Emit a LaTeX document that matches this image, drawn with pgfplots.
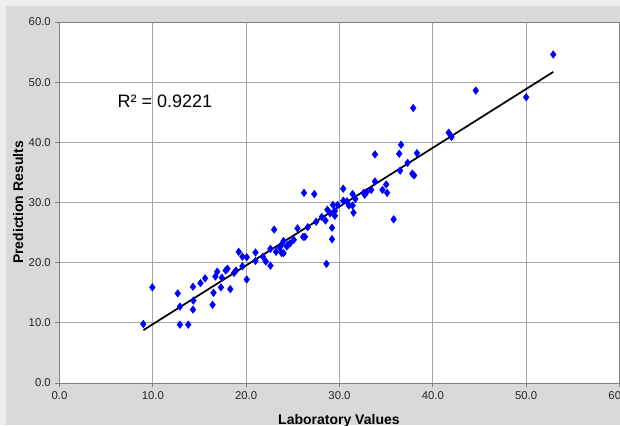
\documentclass[border=0pt]{standalone}
\usepackage{pgfplots}
\pgfplotsset{compat=1.18}
\usepackage{fontspec}
\setmainfont{Liberation Sans}
\definecolor{outerbg}{HTML}{EEEEEE}
\definecolor{panelbg}{HTML}{D9D9D9}
\definecolor{gridc}{HTML}{A6A6A6}
\definecolor{axc}{HTML}{808080}
\begin{document}
\begin{tikzpicture}
\useasboundingbox (0,0) rectangle (465pt,318.75pt);
\fill[outerbg] (0,0) rectangle (465pt,318.75pt);
\fill[panelbg] (4.5pt,0) rectangle (465pt,314.25pt);
\begin{axis}[
  at={(44.625pt,31.5pt)}, anchor=south west,
  scale only axis, width=420pt, height=270.75pt,
  xmin=0, xmax=60, ymin=0, ymax=60,
  xtick={0,10,...,60}, ytick={0,10,...,60},
  grid=major, major grid style={gridc, line width=0.7pt},
  axis line style={axc, line width=0.7pt},
  axis background/.style={fill=white},
  tick pos=left, tick align=outside, major tick length=3pt,
  tick style={axc, line width=0.6pt},
  /pgf/number format/assume math mode=true,
  /pgf/number format/.cd, fixed, fixed zerofill, precision=1, /pgfplots/.cd,
  tick label style={font=\fontsize{8.5pt}{10pt}\selectfont, text=black!85},
  xlabel={Laboratory Values}, ylabel={Prediction Results},
  label style={font=\fontsize{10.5pt}{12pt}\selectfont\bfseries},
  xlabel style={at={(axis description cs:0.499,-0.104)}, anchor=center},
  ylabel style={at={(axis description cs:-0.074,0.5)}, anchor=center},
]
\addplot[only marks, mark=diamond*, mark size=2.8pt, color=blue] coordinates {
(8.98,9.8) (9.95,15.9) (12.67,14.9) (12.9,12.7) (12.9,9.7) (13.8,9.7)
(14.3,16.0) (14.35,13.7) (14.3,12.2) (15.1,16.6) (15.6,17.4) (16.4,13.0)
(16.5,15.0) (16.7,17.7) (16.9,18.5) (17.3,15.9) (17.4,17.5) (17.8,18.7)
(18.0,19.0) (18.3,15.6) (18.7,18.3) (18.9,18.7) (19.2,21.8)
(19.6,21.0) (20.06,20.9) (20.06,17.2) (19.6,19.4) (21.0,21.7) (21.0,20.3)
(21.8,21.0) (22.1,20.2) (22.6,19.5) (22.6,22.3) (23.0,25.5) (23.2,21.8)
(23.6,22.5) (23.8,21.6) (24.0,21.6) (24.0,23.6) (23.8,23.0) (24.35,22.7)
(24.5,23.0) (24.7,23.2) (25.1,23.8) (25.5,25.7) (26.1,24.3) (26.3,24.3)
(26.6,25.9) (27.5,26.8) (28.1,27.6) (28.5,27.0) (28.6,19.8) (29.2,25.8)
(29.2,23.9) (29.0,28.2) (29.3,29.6) (29.8,29.6) (28.7,28.8)
(26.2,31.6) (27.3,31.4)
(36.6,39.6) (36.4,38.1) (38.3,38.2) (33.8,38.0) (37.3,36.6) (36.5,35.3)
(37.8,34.8) (38.0,34.5) (33.8,33.5) (35.0,33.0) (34.6,32.1) (35.1,31.6)
(33.4,32.1) (32.9,31.7) (32.6,31.6) (32.7,31.3) (31.4,31.4) (31.7,30.6)
(30.4,32.3) (30.4,30.3) (30.8,30.2) (31.0,29.5) (31.4,29.5) (31.5,28.3)
(29.5,28.6) (29.5,27.8) (35.8,27.2)
(52.9,54.6) (44.6,48.6) (50.0,47.5) (41.7,41.6) (42.0,40.9) (37.9,45.7)
};
\addplot[black, line width=1.3pt] coordinates {(9.0,8.8) (52.9,51.7)};
\node[font=\fontsize{13.5pt}{15pt}\selectfont, anchor=center] at (axis cs:11.3,46.9) {R² = 0.9221};
\end{axis}
\end{tikzpicture}
\end{document}
